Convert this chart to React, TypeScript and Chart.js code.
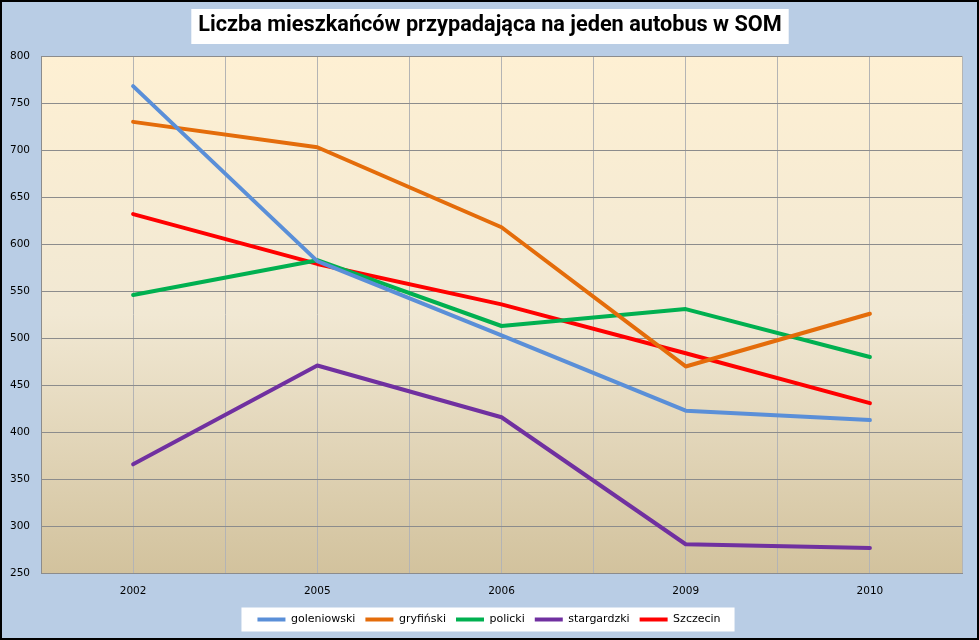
import React, { useEffect, useRef } from "react";
import { Chart, registerables } from "chart.js";

Chart.register(...registerables);

const TITLE = "Liczba mieszkańców przypadająca na jeden autobus w SOM";
const YEARS = ["2002", "2005", "2006", "2009", "2010"];
const SERIES_NAMES = ["goleniowski", "gryfiński", "policki", "stargardzki", "Szczecin"];
const GOLENIOWSKI = [768, 582, 503, 423, 413];
const GRYFINSKI = [730, 703, 618, 470, 526];
const POLICKI = [546, 583, 513, 531, 480];
const STARGARDZKI = [366, 471, 416, 281, 277];
const SZCZECIN = [632, 579, 536, 484, 431];
const SERIES_VALUES = [GOLENIOWSKI, GRYFINSKI, POLICKI, STARGARDZKI, SZCZECIN];
const SERIES_COLORS = ["#5A8FD8", "#E46C0A", "#00B050", "#7030A0", "#FF0000"];
const Y_MIN = 250;
const Y_MAX = 800;
const Y_STEP = 50;

const TITLE_FONT = "bold 21.7px Roboto";
const LEGEND_SHIFT = 8;
const TITLE_SHIFT = 9;

const decoPlugin = {
  id: "deco",
  afterLayout(chart: any) {
    const lg = chart.legend;
    if (lg) {
      lg.left += LEGEND_SHIFT;
      lg.right += LEGEND_SHIFT;
      (lg.legendHitBoxes || []).forEach((h: any) => {
        h.left += LEGEND_SHIFT;
      });
    }
    const t = chart.titleBlock;
    if (t) {
      t.left += TITLE_SHIFT;
      t.right += TITLE_SHIFT;
    }
  },
  beforeDraw(chart: any) {
    const { ctx, width, height, chartArea } = chart;
    ctx.save();
    ctx.fillStyle = "#B9CDE5";
    ctx.fillRect(0, 0, width, height);
    const g = ctx.createLinearGradient(0, chartArea.top, 0, chartArea.bottom);
    g.addColorStop(0, "#FEF0D3");
    g.addColorStop(0.5, "#F1E8D3");
    g.addColorStop(1, "#D2C29D");
    ctx.fillStyle = g;
    ctx.fillRect(chartArea.left, chartArea.top, chartArea.right - chartArea.left, chartArea.bottom - chartArea.top);
    // title box
    const t = chart.titleBlock;
    if (t) {
      ctx.font = TITLE_FONT;
      const w = ctx.measureText(TITLE).width;
      const cx = (t.left + t.right) / 2;
      ctx.fillStyle = "#FFFFFF";
      ctx.fillRect(cx - w / 2 - 7, 9, w + 14, 35);
    }
    // legend box
    const lg = chart.legend;
    if (lg && lg.legendHitBoxes && lg.legendHitBoxes.length) {
      const hb = lg.legendHitBoxes;
      const l = Math.min(...hb.map((h: any) => h.left));
      const r = Math.max(...hb.map((h: any) => h.left + h.width));
      const cy = hb[0].top + hb[0].height / 2;
      ctx.fillStyle = "#FFFFFF";
      ctx.fillRect(l - 16, cy - 12, r - l + 30, 24);
    }
    ctx.restore();
  },
  afterDraw(chart: any) {
    const { ctx, width, height } = chart;
    ctx.save();
    ctx.strokeStyle = "#000000";
    ctx.lineWidth = 2;
    ctx.strokeRect(1, 1, width - 2, height - 2);
    ctx.restore();
  },
};

export default function App() {
  const ref = useRef<HTMLCanvasElement | null>(null);

  useEffect(() => {
    document.body.style.margin = "0";
    const canvas = ref.current;
    if (!canvas) return;
    const tickFont = { family: "'DejaVu Sans'", size: 10.5 };
    const chart = new Chart(canvas, {
      type: "line",
      data: {
        datasets: SERIES_VALUES.map((vals, i) => ({
          label: SERIES_NAMES[i],
          data: vals.map((v, j) => ({ x: j, y: v })),
          borderColor: SERIES_COLORS[i],
          backgroundColor: SERIES_COLORS[i],
          borderWidth: 4,
          pointRadius: 0,
          pointHoverRadius: 0,
          pointStyle: "line",
          tension: 0,
          borderCapStyle: "round",
          borderJoinStyle: "round",
          fill: false,
        })),
      },
      options: {
        animation: false,
        responsive: false,
        maintainAspectRatio: false,
        layout: { padding: { left: 0, right: 17, top: 0, bottom: 5 } },
        plugins: {
          title: {
            display: true,
            text: TITLE,
            color: "#000000",
            font: { family: "Roboto", size: 21.7, weight: "bold" },
            padding: { top: 13, bottom: 17 },
          },
          legend: {
            position: "bottom",
            labels: {
              usePointStyle: true,
              pointStyleWidth: 28,
              boxHeight: 4,
              color: "#000000",
              font: { family: "'DejaVu Sans'", size: 11 },
              padding: 10,
            },
          },
          tooltip: { enabled: false },
        },
        scales: {
          x: {
            type: "linear",
            min: -0.5,
            max: YEARS.length - 0.5,
            ticks: {
              stepSize: 0.5,
              autoSkip: false,
              maxRotation: 0,
              padding: 12,
              color: "#000000",
              font: tickFont,
              callback: (v: any) => (Number.isInteger(v) ? YEARS[v] : ""),
            },
            grid: { color: "#B4B4B4", drawTicks: false, lineWidth: 1 },
            border: { color: "#8C8C8C" },
            afterFit: (s: any) => {
              s.height = s.height - 6;
            },
          },
          y: {
            min: Y_MIN,
            max: Y_MAX,
            ticks: { stepSize: Y_STEP, padding: 11, color: "#000000", font: tickFont },
            grid: { color: "#8C8C8C", drawTicks: false, lineWidth: 1 },
            border: { color: "#8C8C8C" },
            afterFit: (s: any) => {
              s.width = 41;
            },
          },
        },
      },
      plugins: [decoPlugin],
    } as any);
    return () => chart.destroy();
  }, []);

  return <canvas ref={ref} width={979} height={640} style={{ display: "block" }} />;
}
